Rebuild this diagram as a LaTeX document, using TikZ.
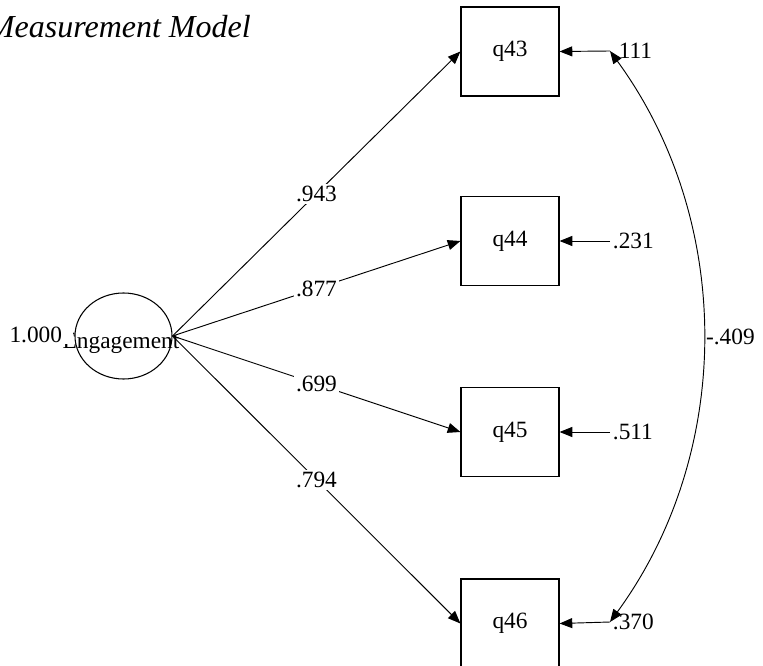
\documentclass[tikz,border=0pt]{standalone}
\usepackage{fontspec}
\setmainfont{Liberation Serif}
\usetikzlibrary{arrows.meta,shapes.geometric}

\begin{document}
\begin{tikzpicture}[x=0.75pt, y=-0.75pt, font=\fontsize{17.5}{20}\selectfont,
  >={Triangle[length=9.5pt,width=7.5pt]},
  obs/.style={draw, line width=0.9pt, minimum width=73.5pt, minimum height=66.75pt, inner sep=0pt},
  lat/.style={ellipse, draw, line width=0.8pt, minimum width=72.75pt, minimum height=64.5pt, inner sep=0pt},
  coef/.style={fill=white, inner sep=1.5pt},
  link/.style={->, line width=0.7pt}]
  \useasboundingbox (0,0) rectangle (763,666);
  \clip (0,0) rectangle (763,666);
  % title
  \node[anchor=base east, inner sep=0pt, font=\fontsize{24}{28}\selectfont\itshape] (title) at (251,38) {Measurement Model};
  % latent factor
  \node[anchor=base, inner sep=0pt] (lbl) at (121,348) {Engagement};
  \node[anchor=base east, fill=white, inner xsep=8pt, inner ysep=1pt] (var) at (73,342) {1.000};
  \node[lat] (eng) at (123.5,336) {};
  % indicators
  \foreach \q/\y in {43/51.5, 44/241, 45/432, 46/623.5}
    \node[obs] (q\q) at (510,\y) {q\q};
  % error variances
  \foreach \q/\y/\v in {43/51/.111, 44/241/.231, 45/432/.511, 46/622/.370}
    \node[anchor=west, inner sep=2pt] (e\q) at (610,\y) {\v};
  % loadings
  \foreach \q/\v in {43/.943, 44/.877, 45/.699, 46/.794}
    \draw[link] (eng.east) -- (q\q.west) node[midway, coef] {\v};
  \foreach \q in {43,...,46}
    \draw[link] (e\q.west) -- (q\q.east);
  % error covariance
  \draw[<->, line width=0.7pt] (e43.west) .. controls +(124,170) and +(124,-170) .. (e46.west)
    node[midway, right, inner sep=2pt] {-.409};
\end{tikzpicture}
\end{document}
